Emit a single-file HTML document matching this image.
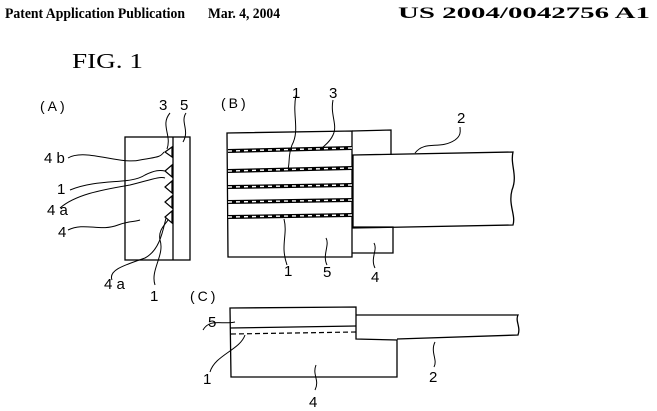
<!DOCTYPE html>
<html><head><style>html,body{margin:0;padding:0;background:#fff}svg{display:block}</style></head>
<body>
<svg width="657" height="411" viewBox="0 0 657 411" xmlns="http://www.w3.org/2000/svg" font-family="Liberation Sans, sans-serif">
<g font-family="Liberation Serif, serif" font-weight="bold" font-size="15">
<text x="5" y="18" textLength="180" lengthAdjust="spacingAndGlyphs">Patent Application Publication</text>
<text x="208" y="18" textLength="72" lengthAdjust="spacingAndGlyphs">Mar. 4, 2004</text>
<text x="398" y="18" font-size="16" textLength="252" lengthAdjust="spacingAndGlyphs">US 2004/0042756 A1</text>
</g>
<text x="72" y="68" font-family="Liberation Serif, serif" font-size="21" textLength="71" lengthAdjust="spacingAndGlyphs">FIG. 1</text>

<g fill="none" stroke="#000" stroke-width="1.3">
<!-- A -->
<rect x="125" y="137" width="65" height="123"/>
<line x1="173" y1="137" x2="173" y2="260"/>
<g fill="#fff" stroke-width="1.2">
<path d="M172 147 L165 152 L172 157Z"/><path d="M172 165 L165 171 L172 177Z"/><path d="M172 181 L165 187 L172 193Z"/><path d="M172 196 L165 202 L172 208Z"/><path d="M172 211 L165 217 L172 223Z"/>
</g>
<path d="M170 113 C160 125 172 135 167 149" stroke-width="1"/>
<path d="M186 113 C180 122 190 130 183 142" stroke-width="1"/>
<path d="M68 158 C85 148 120 165 140 160 C155 157 160 158 164 152" stroke-width="1"/>
<path d="M70 190 C100 178 130 185 145 175 C155 170 160 170 165 171" stroke-width="1"/>
<path d="M60 208 C75 195 100 190 130 185 C150 180 160 176 165 178" stroke-width="1"/>
<path d="M68 230 C85 222 100 232 118 225 C128 221 135 222 140 220" stroke-width="1"/>
<path d="M112 280 C108 270 125 265 145 258 C160 250 163 230 166 218" stroke-width="1"/>
<path d="M155 285 C150 270 165 255 160 240 C158 230 165 225 168 220" stroke-width="1"/>
<!-- B -->
<path d="M227 133 L352 131 L352 257 L228 257Z"/>
<path d="M352 131 L391 130 L391 155"/>
<path d="M352 227 L393 227 L393 253 L352 253"/>
<path d="M353 155 L513 152 C510 165 518 175 512 190 C508 205 516 215 513 225 L353 228Z"/>
<path d="M415 153 C425 140 440 150 455 140 C462 135 460 130 460 127" stroke-width="1"/>
<g stroke-width="4"><line x1="228" y1="151" x2="352" y2="148"/><line x1="228" y1="171" x2="352" y2="168"/><line x1="228" y1="187" x2="352" y2="185"/><line x1="228" y1="202" x2="352" y2="200"/><line x1="228" y1="217" x2="352" y2="215"/></g>
<g stroke="#fff" stroke-width="1.4" stroke-dasharray="4 4"><line x1="228" y1="151" x2="352" y2="148"/><line x1="228" y1="171" x2="352" y2="168"/><line x1="228" y1="187" x2="352" y2="185"/><line x1="228" y1="202" x2="352" y2="200"/><line x1="228" y1="217" x2="352" y2="215"/></g>
<path d="M296 95 C292 115 300 130 292 145 C288 155 290 162 288 169" stroke-width="1"/>
<path d="M333 100 C330 115 338 125 333 135 C330 142 325 145 322 148" stroke-width="1"/>
<path d="M284 219 C288 235 280 245 287 265" stroke-width="1"/>
<path d="M326 238 C330 245 322 255 327 265" stroke-width="1"/>
<path d="M374 243 C378 250 370 258 375 268" stroke-width="1"/>
<!-- C -->
<path d="M230 308 L356 307 L356 339 L397 340 L397 377 L231 377Z"/>
<line x1="230" y1="328" x2="356" y2="326"/>
<line x1="231" y1="334" x2="356" y2="332" stroke-dasharray="5 3" stroke-width="1.2"/>
<path d="M356 315 L518 315 C515 321 521 327 518 335 L397 339"/>
<path d="M203 330 C210 318 222 325 235 322" stroke-width="1"/>
<path d="M210 372 C215 355 240 350 245 335" stroke-width="1"/>
<path d="M315 390 C320 380 312 375 316 365" stroke-width="1"/>
<path d="M434 367 C438 360 430 352 435 342" stroke-width="1"/>
</g>

<g font-size="15">
<text x="40" y="111" font-size="14" letter-spacing="3">(A)</text>
<text x="159" y="110">3</text><text x="180" y="110">5</text>
<text x="44" y="163">4 b</text><text x="57" y="194">1</text>
<text x="47" y="215">4 a</text><text x="58" y="237">4</text>
<text x="104" y="289">4 a</text><text x="150" y="301">1</text>
<text x="221" y="108" font-size="14" letter-spacing="3">(B)</text>
<text x="292" y="98">1</text><text x="329" y="98">3</text><text x="457" y="123">2</text>
<text x="284" y="276">1</text><text x="323" y="277">5</text><text x="371" y="282">4</text>
<text x="190" y="301" font-size="14" letter-spacing="3">(C)</text>
<text x="208" y="327">5</text><text x="203" y="384">1</text>
<text x="309" y="407">4</text><text x="429" y="382">2</text>
</g>
</svg>
</body></html>
